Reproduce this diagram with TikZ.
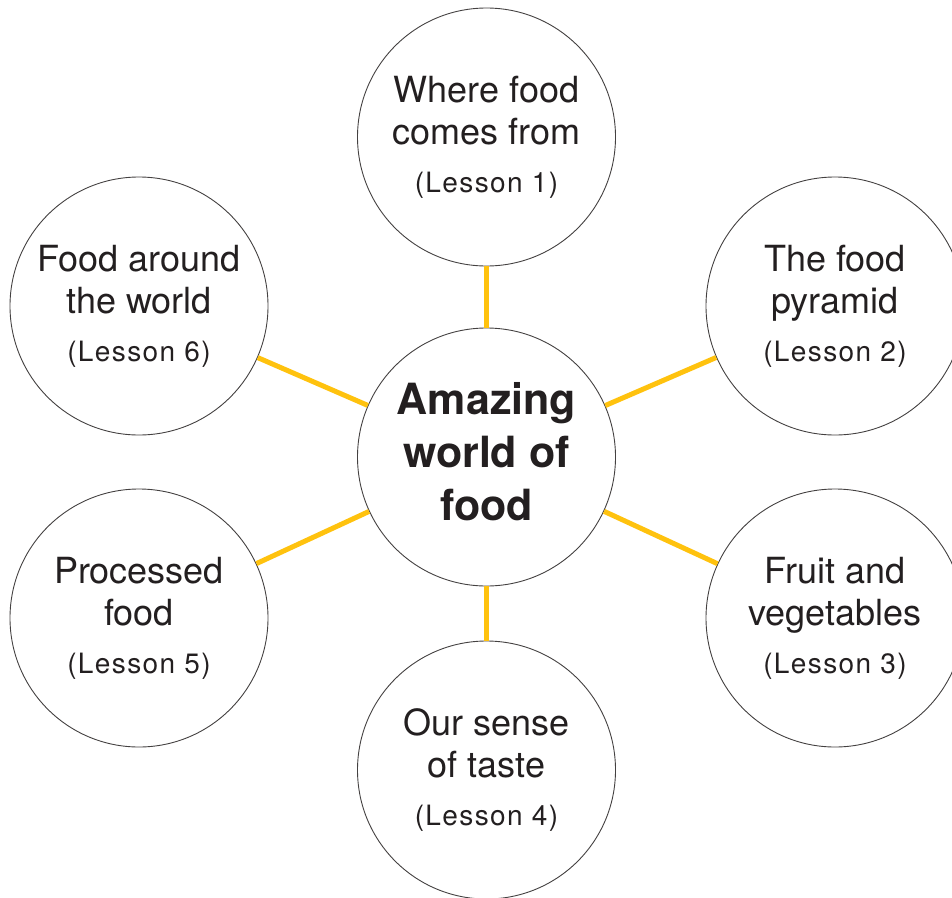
\documentclass[tikz,border=0pt]{standalone}
\usepackage{fontspec}
\setmainfont{TeX Gyre Heros}
\newfontfamily\lessonfont{TeX Gyre Heros}[LetterSpace=5]
\definecolor{ink}{HTML}{231F20}
\definecolor{gold}{HTML}{FFC20E}
\newcommand{\lessonline}[1]{\\[6pt]{\lessonfont\fontsize{28}{32}\selectfont (Lesson #1)}}
\begin{document}
\begin{tikzpicture}[x=1pt,y=-1pt,
  topic/.style={circle,draw=ink!85,line width=0.9pt,fill=white,minimum size=258pt,
    inner sep=0pt,align=center,text=ink,font=\fontsize{36}{42}\selectfont},
  hub/.style={topic,font=\bfseries\fontsize{43}{53}\selectfont},
  link/.style={draw=gold,line width=5pt}]
\useasboundingbox (0,0) rectangle (952,897);
\node[hub]   (c)  at (486.5,457) {Amazing\\world of\\food\rule[-12pt]{0pt}{0pt}};
\node[topic] (t)  at (486.5,137) {Where food\\comes from\lessonline{1}};
\node[topic] (ur) at (835,306)   {The food\\pyramid\lessonline{2}};
\node[topic] (lr) at (835,618)   {Fruit and\\vegetables\lessonline{3}};
\node[topic] (b)  at (486.5,770) {Our sense\\of taste\lessonline{4}};
\node[topic] (ll) at (139,618)   {Processed\\food\lessonline{5}};
\node[topic] (ul) at (139,306)   {Food around\\the world\lessonline{6}};
\foreach \n in {t,ur,lr,b,ll,ul} \draw[link] (c) -- (\n);
\end{tikzpicture}
\end{document}
